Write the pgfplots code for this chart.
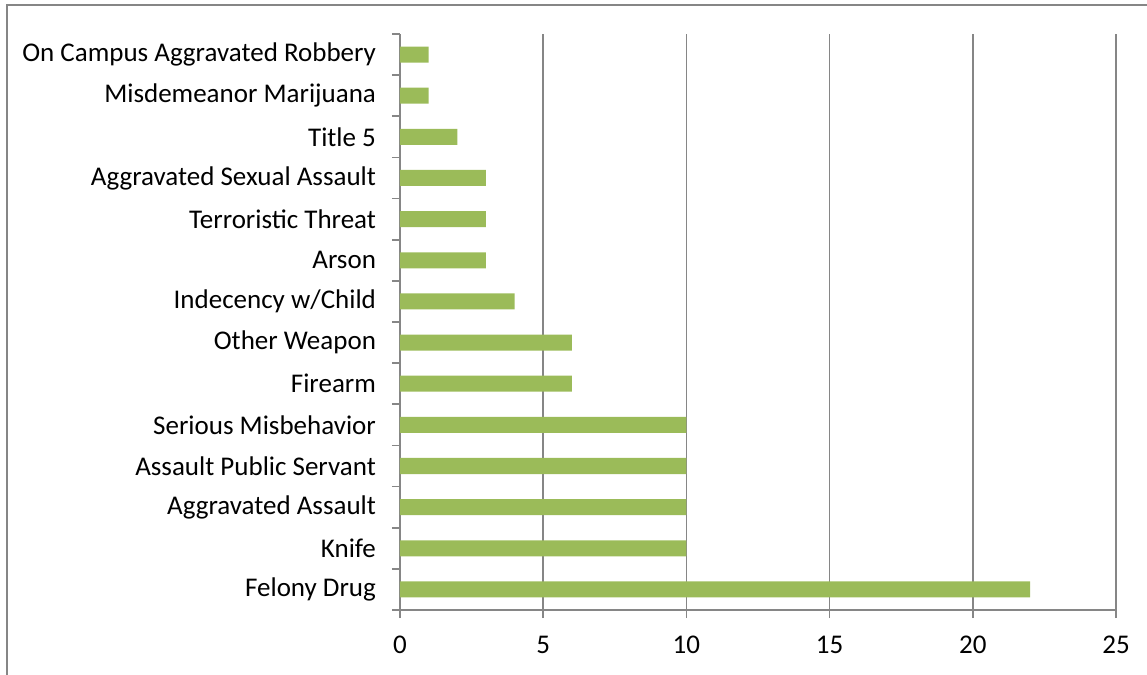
\documentclass[border=0pt]{standalone}
\usepackage{fontspec}
\setmainfont{Carlito}
\usepackage{pgfplots}
\pgfplotsset{compat=1.18}
\definecolor{bargreen}{HTML}{9BBB59}
\definecolor{gridgray}{HTML}{868686}
\begin{document}
\begin{tikzpicture}[font=\fontsize{13.5}{16}\selectfont]
\useasboundingbox (0,0) rectangle (573.5pt,337.5pt);
% outer chart frame (runs off the right and bottom edge)
\draw[gridgray, line width=1pt] (3.5pt,-5pt) -- (3.5pt,335pt) -- (580pt,335pt);
\begin{axis}[
    at={(200pt,32.5pt)}, anchor=south west,
    scale only axis,
    width=358pt, height=288pt,
    xbar, bar width=8pt,
    xmin=0, xmax=25,
    ymin=-0.5, ymax=13.5,
    xtick={0,5,10,15,20,25},
    ytick={0,...,13},
    yticklabels={Felony Drug, Knife, Aggravated Assault, Assault Public Servant,
      Serious Misbehavior, Firearm, Other Weapon, Indecency w/Child, Arson,
      Terroristic Threat, Aggravated Sexual Assault, Title 5,
      Misdemeanor Marijuana, On Campus Aggravated Robbery},
    minor ytick={-0.5,0.5,...,13.5},
    axis lines=left,
    axis line style={-, gridgray, line width=0.8pt},
    tick align=outside,
    major tick length=4pt,
    minor tick length=4pt,
    every major y tick/.append style={draw=none},
    every minor y tick/.append style={draw=gridgray, line width=0.8pt},
    every major x tick/.append style={draw=gridgray, line width=0.8pt},
    xmajorgrids,
    major grid style={gridgray, line width=0.8pt},
    yticklabel style={xshift=-4.5pt},
    xticklabel style={yshift=-5.5pt},
    /pgf/number format/assume math mode=true,
    tick label style={font=\fontsize{13.5}{16}\selectfont},
]
\addplot[fill=bargreen, draw=none] coordinates {
  (22,0) (10,1) (10,2) (10,3) (10,4) (6,5) (6,6)
  (4,7) (3,8) (3,9) (3,10) (2,11) (1,12) (1,13)
};
\end{axis}
\end{tikzpicture}
\end{document}
